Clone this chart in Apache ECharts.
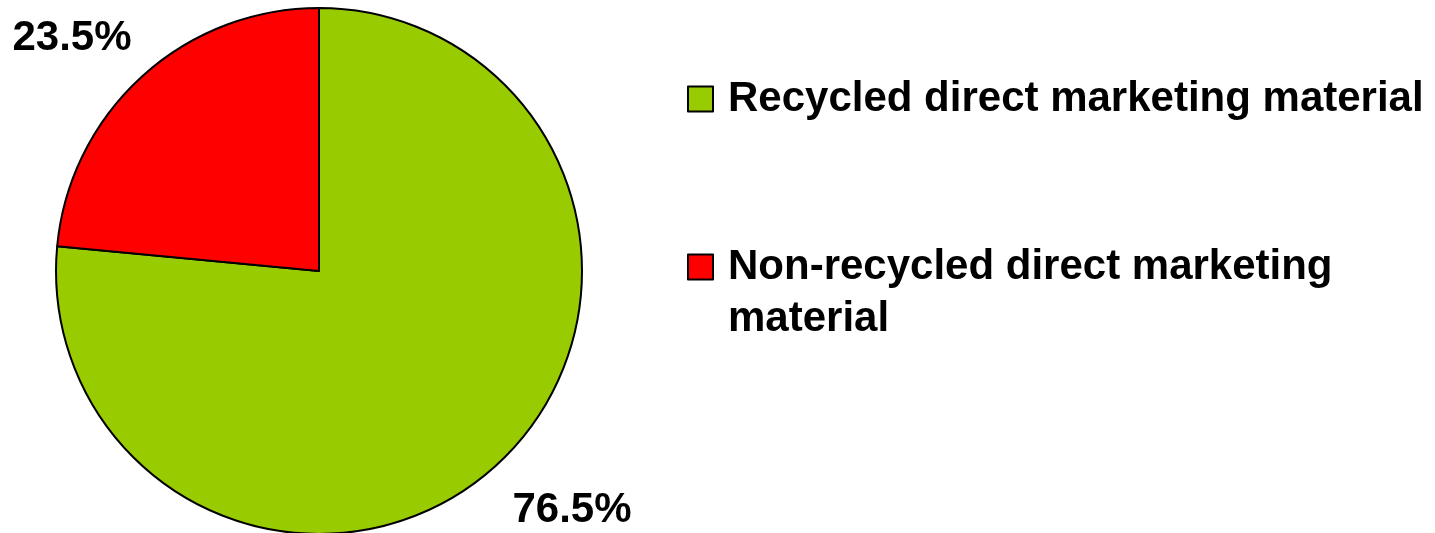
<!DOCTYPE html>
<html>
<head>
<meta charset="utf-8">
<script src="https://cdn.jsdelivr.net/npm/echarts@6/dist/echarts.min.js"></script>
<style>
  html, body { margin: 0; padding: 0; background: #fff; }
  #main { width: 1435px; height: 533px; }
</style>
</head>
<body>
<div id="main"></div>
<script>
var categories = ['Recycled direct marketing material', 'Non-recycled direct marketing material'];
// first line of each legend entry sits beside its swatch
var legendLabels = ['Recycled direct marketing material', '\nNon-recycled direct marketing\nmaterial'];
var shares = [76.5, 23.5];
var colors = ['#99cc00', '#ff0000'];

var myChart = echarts.init(document.getElementById('main'));

var font = { fontFamily: 'Liberation Sans, Arial, sans-serif', fontWeight: 'bold', fontSize: 42, color: '#000' };

var pieData = categories.map(function (name, i) {
    return { name: name, value: shares[i], itemStyle: { color: colors[i] } };
});

// label spots, as in the original
var labelSpots = [[572, 510], [72, 38]];

function makeLegend(i, top) {
    return {
        orient: 'vertical',
        left: 687,
        top: top,
        padding: 0,
        itemWidth: 25,
        itemHeight: 25,
        icon: 'rect',
        selectedMode: false,
        itemStyle: { borderColor: '#000', borderWidth: 2 },
        formatter: function () { return legendLabels[i]; },
        textStyle: Object.assign({ lineHeight: 52, padding: [0, 0, 0, 10] }, font),
        data: [categories[i]]
    };
}

var option = {
    backgroundColor: '#fff',
    animation: false,
    legend: [makeLegend(0, 73), makeLegend(1, 189)],
    series: [{
        type: 'pie',
        center: [319, 271],
        radius: 263,
        startAngle: 90,
        clockwise: true,
        itemStyle: { borderColor: '#000', borderWidth: 2 },
        label: Object.assign({
            show: true,
            position: 'outside',
            overflow: 'none',
            formatter: function (p) { return p.value.toFixed(1) + '%'; }
        }, font),
        labelLine: { show: false },
        labelLayout: function (p) {
            var s = labelSpots[p.dataIndex];
            return { x: s[0], y: s[1], width: 200, align: 'center', verticalAlign: 'middle' };
        },
        emphasis: { disabled: true },
        data: pieData
    }]
};

myChart.setOption(option);
</script>
</body>
</html>
